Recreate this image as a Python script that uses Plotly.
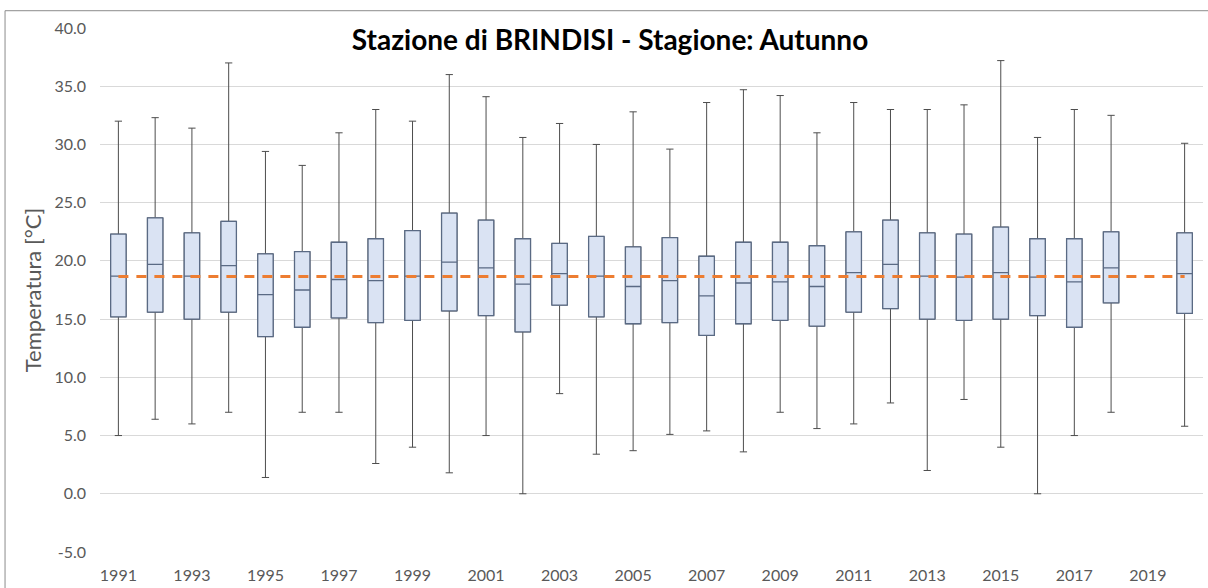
import plotly.graph_objects as go

years = [1991, 1992, 1993, 1994, 1995, 1996, 1997, 1998, 1999, 2000,
         2001, 2002, 2003, 2004, 2005, 2006, 2007, 2008, 2009, 2010,
         2011, 2012, 2013, 2014, 2015, 2016, 2017, 2018, 2020]
t_max = [32.0, 32.3, 31.4, 37.0, 29.4, 28.2, 31.0, 33.0, 32.0, 36.0,
         34.1, 30.6, 31.8, 30.0, 32.8, 29.6, 33.6, 34.7, 34.2, 31.0,
         33.6, 33.0, 33.0, 33.4, 37.2, 30.6, 33.0, 32.5, 30.1]
q3 = [22.3, 23.7, 22.4, 23.4, 20.6, 20.8, 21.6, 21.9, 22.6, 24.1,
      23.5, 21.9, 21.5, 22.1, 21.2, 22.0, 20.4, 21.6, 21.6, 21.3,
      22.5, 23.5, 22.4, 22.3, 22.9, 21.9, 21.9, 22.5, 22.4]
median = [18.7, 19.7, 18.7, 19.6, 17.1, 17.5, 18.4, 18.3, 18.7, 19.9,
          19.4, 18.0, 18.9, 18.7, 17.8, 18.3, 17.0, 18.1, 18.2, 17.8,
          19.0, 19.7, 18.7, 18.6, 19.0, 18.6, 18.2, 19.4, 18.9]
q1 = [15.2, 15.6, 15.0, 15.6, 13.5, 14.3, 15.1, 14.7, 14.9, 15.7,
      15.3, 13.9, 16.2, 15.2, 14.6, 14.7, 13.6, 14.6, 14.9, 14.4,
      15.6, 15.9, 15.0, 14.9, 15.0, 15.3, 14.3, 16.4, 15.5]
t_min = [5.0, 6.4, 6.0, 7.0, 1.4, 7.0, 7.0, 2.6, 4.0, 1.8,
         5.0, 0.0, 8.6, 3.4, 3.7, 5.1, 5.4, 3.6, 7.0, 5.6,
         6.0, 7.8, 2.0, 8.1, 4.0, 0.0, 5.0, 7.0, 5.8]
mean_years = [1991, 2020]
mean_value = 18.65

tick_years = [1991, 1993, 1995, 1997, 1999, 2001, 2003, 2005, 2007, 2009,
              2011, 2013, 2015, 2017, 2019]
y_ticks = [-5, 0, 5, 10, 15, 20, 25, 30, 35, 40]

title_text = "Stazione di BRINDISI - Stagione: Autunno"
y_title = "Temperatura [°C]"

FONT = "Lato"
GRAY = "#595959"

fig = go.Figure()

# whiskers (full range)
fig.add_trace(go.Box(
    x=years, q1=q1, median=median, q3=q3,
    lowerfence=t_min, upperfence=t_max,
    width=0.42, whiskerwidth=0.47,
    fillcolor="rgba(0,0,0,0)",
    line=dict(color="#4d4d4d", width=1),
    boxpoints=False, showlegend=False, hoverinfo="skip",
))
# boxes on top
fig.add_trace(go.Box(
    x=years, q1=q1, median=median, q3=q3,
    lowerfence=q1, upperfence=q3,
    width=0.42, whiskerwidth=0,
    fillcolor="#DAE3F3",
    line=dict(color="#5A6A84", width=1.3),
    boxpoints=False, showlegend=False,
))
# mean dashed line
fig.add_trace(go.Scatter(
    x=mean_years, y=[mean_value] * len(mean_years),
    mode="lines",
    line=dict(color="#ED7D31", width=3, dash="10px,8px"),
    showlegend=False, hoverinfo="skip",
))

fig.update_layout(
    width=1208, height=588,
    margin=dict(l=100, r=5, t=28, b=36),
    paper_bgcolor="white", plot_bgcolor="white",
    boxmode="overlay",
    font=dict(family=FONT, color=GRAY, size=16),
    title=dict(text=f"<b>{title_text}</b>", x=0.505, xanchor="center",
               y=0.932, yanchor="middle", yref="container",
               font=dict(family=FONT, size=28, color="#000000")),
    xaxis=dict(range=[1990.5, 2020.5], tickmode="array", tickvals=tick_years,
               ticktext=[str(y) for y in tick_years],
               showgrid=False, zeroline=False, showline=False,
               ticks="", ticklabelstandoff=12,
               tickfont=dict(family=FONT, size=16, color=GRAY)),
    yaxis=dict(range=[-5, 40], tickmode="array", tickvals=y_ticks,
               ticktext=[f"{v:.1f}" for v in y_ticks],
               showgrid=True, gridcolor="#D9D9D9", gridwidth=1,
               zeroline=False, showline=False, ticks="",
               ticklabelstandoff=13,
               tickfont=dict(family=FONT, size=16, color=GRAY),
               title=dict(text=y_title, standoff=6,
                          font=dict(family=FONT, size=22, color=GRAY))),
    shapes=[dict(type="rect", xref="paper", yref="paper",
                 x0=-0.0861, x1=1.02, y0=-0.2, y1=1.033,
                 line=dict(color="#8C8C8C", width=1), fillcolor="rgba(0,0,0,0)",
                 layer="below")],
)

fig.write_html("out.html", config={"displayModeBar": False},
               post_script="document.body.style.margin='0px';")
